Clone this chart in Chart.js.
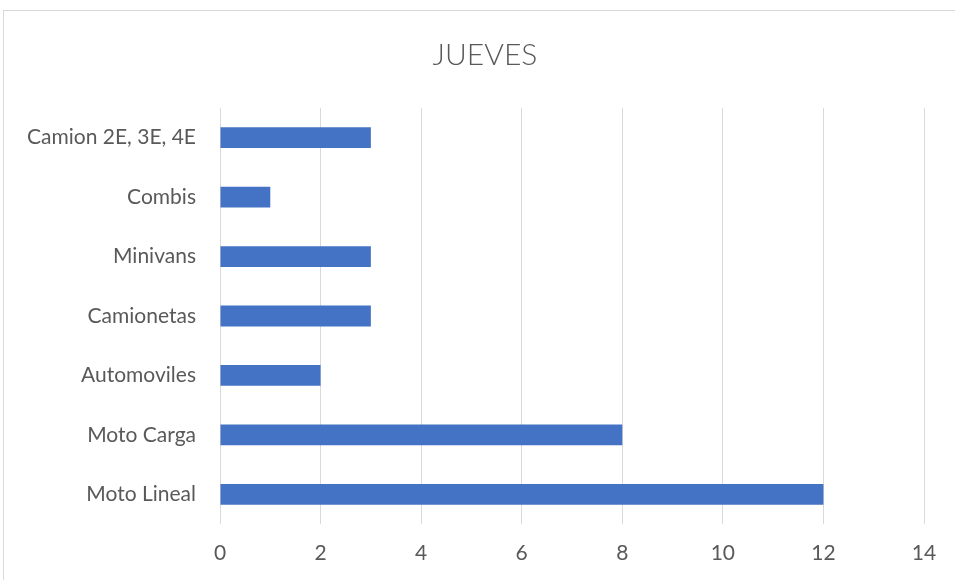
<!DOCTYPE html>
<html>
<head>
<meta charset="utf-8">
<script src="https://cdn.jsdelivr.net/npm/chart.js@4/dist/chart.umd.min.js"></script>
<style>
html,body{margin:0;padding:0;background:#fff;overflow:hidden;}
#wrap{position:absolute;left:0;top:0;width:955px;height:580px;overflow:hidden;}
</style>
</head>
<body>
<div id="wrap"><canvas id="c" width="970" height="580"></canvas></div>
<script>
const categories = ["Camion 2E, 3E, 4E", "Combis", "Minivans", "Camionetas", "Automoviles", "Moto Carga", "Moto Lineal"];
const values = [3, 1, 3, 3, 2, 8, 12];
const chartTitle = "JUEVES";
const xMin = 0, xMax = 14, xStep = 2;

const FONT = "Lato, 'Open Sans', sans-serif";
const TEXT = "#595959";

const frame = {
  id: 'frame',
  beforeDraw(chart) {
    const ctx = chart.ctx;
    ctx.save();
    ctx.fillStyle = '#ffffff';
    ctx.fillRect(0, 0, chart.width, chart.height);
    ctx.strokeStyle = '#d9d9d9';
    ctx.lineWidth = 1;
    ctx.strokeRect(3.5, 10.5, 980, 600);
    ctx.restore();
  }
};

new Chart(document.getElementById('c'), {
  type: 'bar',
  data: {
    labels: categories,
    datasets: [{
      data: values,
      backgroundColor: '#4472C4',
      borderWidth: 0,
      categoryPercentage: 1,
      barPercentage: 0.35
    }]
  },
  options: {
    indexAxis: 'y',
    responsive: false,
    animation: false,
    layout: { padding: { left: 0, right: 0, top: 0, bottom: 0 } },
    plugins: {
      legend: { display: false },
      tooltip: { enabled: false },
      title: {
        display: true,
        text: chartTitle,
        color: TEXT,
        font: { family: FONT, size: 30, weight: 300 },
        padding: { top: 37, bottom: 35 }
      }
    },
    scales: {
      x: {
        min: xMin, max: xMax,
        ticks: { stepSize: xStep, color: TEXT, font: { family: FONT, size: 21 }, padding: 17 },
        grid: { color: '#d9d9d9', lineWidth: 1, drawTicks: false },
        border: { display: false },
        afterFit(s) { s.height = 56; }
      },
      y: {
        ticks: { color: TEXT, font: { family: FONT, size: 21 }, padding: 24 },
        grid: { display: false, drawTicks: false },
        border: { display: false },
        afterFit(s) { s.width = 220; }
      },
      yRight: {
        type: 'category',
        position: 'right',
        ticks: { display: false },
        grid: { display: false, drawTicks: false },
        border: { display: false },
        afterFit(s) { s.width = 46; }
      }
    }
  },
  plugins: [frame]
});
</script>
</body>
</html>
